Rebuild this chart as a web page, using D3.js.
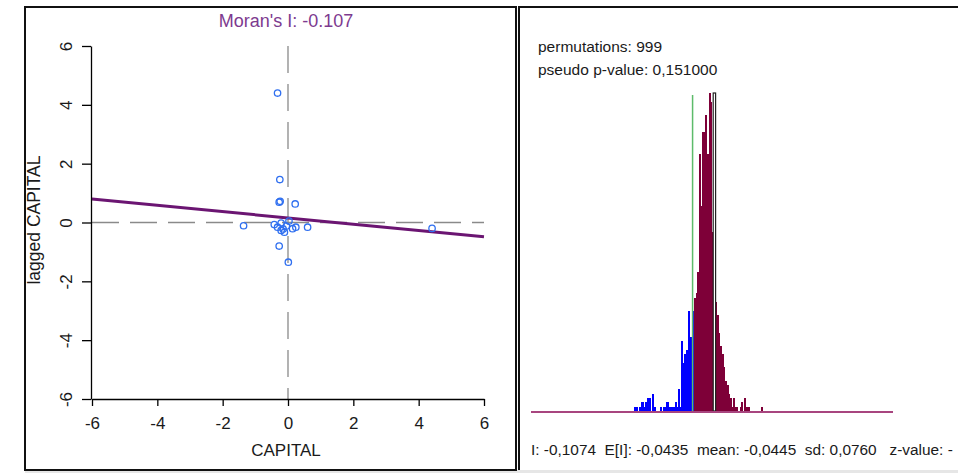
<!DOCTYPE html>
<html><head><meta charset="utf-8">
<script src="https://cdn.jsdelivr.net/npm/d3@7"></script>
<style>
html,body{margin:0;padding:0;background:#fff;overflow:hidden}
svg{display:block;font-family:"Liberation Sans",Arial,sans-serif}
</style></head><body>
<svg id="c" width="958" height="473"></svg>
<script>
// ---- Moran scatter plot data ----
const scatterX = [-0.32, -0.25, -0.27, -0.24, 0.22, -1.36, -0.42, -0.21, -0.32, -0.21, -0.11, 0.14, 0.24, 0.60, -0.27, 0.01, 4.41, 0.03, -0.05, -0.15];
const scatterY = [4.40, 1.46, 0.69, 0.72, 0.63, -0.11, -0.07, -0.02, -0.16, -0.27, -0.33, -0.21, -0.16, -0.16, -0.80, -1.35, -0.20, 0.05, -0.12, -0.22];
const moranSlope = -0.107;
const fitIntercept = 0.155;
const axisTicks = [-6, -4, -2, 0, 2, 4, 6];
const xLabel = "CAPITAL";
const yLabel = "lagged CAPITAL";
const titleText = "Moran's I: -0.107";

// ---- Permutation histogram data ----
const permutations = 999;
const pseudoP = 0.151;
const observedI = -0.1074;
const expectedI = -0.0435;
const meanI = -0.0445;
const sdI = 0.0760;
const histDomain = [-0.585, 0.485];
const histStart = -0.2805;
const histBinWidth = 0.0048;
const histCounts = [1,1,0,1,2,2,1,2,3,3,0,4,1,0,0,0,1,0,1,1,2,1,1,1,1,2,1,5,1,16,11,13,14,23,17,17,
  23,26,27,32,59,47,64,64,68,59,73,71,41,73,25,22,18,15,13,10,7,6,4,3,1,3,1,1,0,1,2,0,3,1,1,0,0,0,0,0,0,0,1];
const histMax = 73;

const loc = d3.formatLocale({decimal: ",", thousands: ".", grouping: [3], currency: ["", ""], minus: "-"});
const f4 = loc.format(".4f"), f6 = loc.format(".6f");

const svg = d3.select("#c");

// frame
svg.append("rect").attr("x", 25).attr("y", 470).attr("width", 933).attr("height", 3).attr("fill", "#e6e6e6");
svg.append("rect").attr("x", 25).attr("y", 7).attr("width", 491).attr("height", 463)
  .attr("fill", "none").attr("stroke", "#111").attr("stroke-width", 2);
svg.append("path").attr("d", "M519,470V7H960").attr("fill", "none").attr("stroke", "#111").attr("stroke-width", 2);

// ---- left panel ----
const x = d3.scaleLinear().domain([-6, 6]).range([92, 484]);
const y = d3.scaleLinear().domain([-6, 6]).range([399, 46]);
const left = svg.append("g");

left.append("line").attr("x1", x(0)).attr("x2", x(0)).attr("y1", y(6)).attr("y2", y(-6))
  .attr("stroke", "#8a8a8a").attr("stroke-width", 1.3).attr("stroke-dasharray", "27,11");
left.append("line").attr("x1", x(-6)).attr("x2", x(6)).attr("y1", y(0)).attr("y2", y(0))
  .attr("stroke", "#8a8a8a").attr("stroke-width", 1.3).attr("stroke-dasharray", "27,11");

const fit = v => fitIntercept + moranSlope * v;
left.append("line").attr("x1", x(-6)).attr("y1", y(fit(-6))).attr("x2", x(6)).attr("y2", y(fit(6)))
  .attr("stroke", "#6b1572").attr("stroke-width", 3);

left.selectAll("circle.pt").data(scatterX.map((v, i) => [v, scatterY[i]])).join("circle")
  .attr("class", "pt").attr("cx", d => x(d[0])).attr("cy", d => y(d[1])).attr("r", 3.2)
  .attr("fill", "none").attr("stroke", "#2f6ff0").attr("stroke-width", 1.3);

const gx = left.append("g").attr("transform", "translate(0,399)")
  .call(d3.axisBottom(x).tickValues(axisTicks).tickSize(7).tickSizeOuter(0).tickFormat(d => String(d)));
gx.attr("font-size", 17).attr("font-family", null);
gx.select(".domain").attr("stroke", "#000").attr("stroke-width", 1.3);
gx.selectAll(".tick line").attr("stroke", "#000").attr("stroke-width", 1.3);
gx.selectAll(".tick text").attr("y", 30).attr("dy", null).attr("fill", "#1a1a1a");

const gy = left.append("g").attr("transform", "translate(91,0)")
  .call(d3.axisLeft(y).tickValues(axisTicks).tickSize(9).tickSizeOuter(0).tickFormat(d => String(d)));
gy.attr("font-size", 17).attr("font-family", null);
gy.select(".domain").attr("stroke", "#000").attr("stroke-width", 1.3);
gy.selectAll(".tick line").attr("stroke", "#000").attr("stroke-width", 1.3);
gy.selectAll(".tick text").attr("x", null).attr("dy", null).attr("text-anchor", "middle")
  .attr("transform", "translate(-19,0) rotate(-90)").attr("fill", "#1a1a1a");

left.append("text").attr("x", 286).attr("y", 27).attr("text-anchor", "middle")
  .attr("font-size", 18).attr("fill", "#7d3a8f").text(titleText);
left.append("text").attr("x", 286).attr("y", 456).attr("text-anchor", "middle")
  .attr("font-size", 17).attr("fill", "#1a1a1a").text(xLabel);
left.append("text").attr("transform", "translate(39.5,220) rotate(-90)").attr("text-anchor", "middle")
  .attr("font-size", 17.5).attr("fill", "#1a1a1a").text(yLabel);

// ---- right panel ----
const right = svg.append("g");
const hx = d3.scaleLinear().domain(histDomain).range([531, 893]);
const hy = d3.scaleLinear().domain([0, histMax]).range([411, 93]);
const bins = histCounts.map((c, i) => ({x0: histStart + i * histBinWidth, x1: histStart + (i + 1) * histBinWidth, c}));
const isHi = b => b.x0 <= expectedI && expectedI < b.x1;

right.selectAll("rect.bar").data(bins.filter(b => b.c > 0 && !isHi(b))).join("rect")
  .attr("class", "bar")
  .attr("x", d => hx(d.x0)).attr("width", d => hx(d.x1) - hx(d.x0) + 0.4)
  .attr("y", d => hy(d.c)).attr("height", d => hy(0) - hy(d.c))
  .attr("shape-rendering", "crispEdges")
  .attr("fill", d => d.x0 < observedI ? "#0000ff" : "#7e0038");

const hb = bins.find(isHi);
const hc = (hx(hb.x0) + hx(hb.x1)) / 2;
right.append("rect").attr("x", hc - 1.2).attr("width", 2.4)
  .attr("y", hy(hb.c)).attr("height", hy(0) - hy(hb.c))
  .attr("fill", "#fff").attr("stroke", "#222").attr("stroke-width", 1.2);

right.append("line").attr("x1", hx(observedI)).attr("x2", hx(observedI)).attr("y1", hy(histMax) + 2).attr("y2", hy(0))
  .attr("stroke", "#5dbb6a").attr("stroke-width", 1.5);

right.append("line").attr("x1", hx(histDomain[0])).attr("x2", hx(histDomain[1])).attr("y1", 412).attr("y2", 412)
  .attr("stroke", "#a8457f").attr("stroke-width", 2.2);

right.append("text").attr("x", 538).attr("y", 52).attr("font-size", 15.5).attr("fill", "#1a1a1a")
  .text("permutations: " + permutations);
right.append("text").attr("x", 538).attr("y", 75).attr("font-size", 15.5).attr("fill", "#1a1a1a")
  .text("pseudo p-value: " + f6(pseudoP));
right.append("text").attr("x", 531).attr("y", 455).attr("font-size", 15.4).attr("fill", "#1a1a1a")
  .style("white-space", "pre")
  .text("I: " + f4(observedI) + "  E[I]: " + f4(expectedI) + "  mean: " + f4(meanI) + "  sd: " + f4(sdI) + "   z-value: -");
</script>
</body></html>
